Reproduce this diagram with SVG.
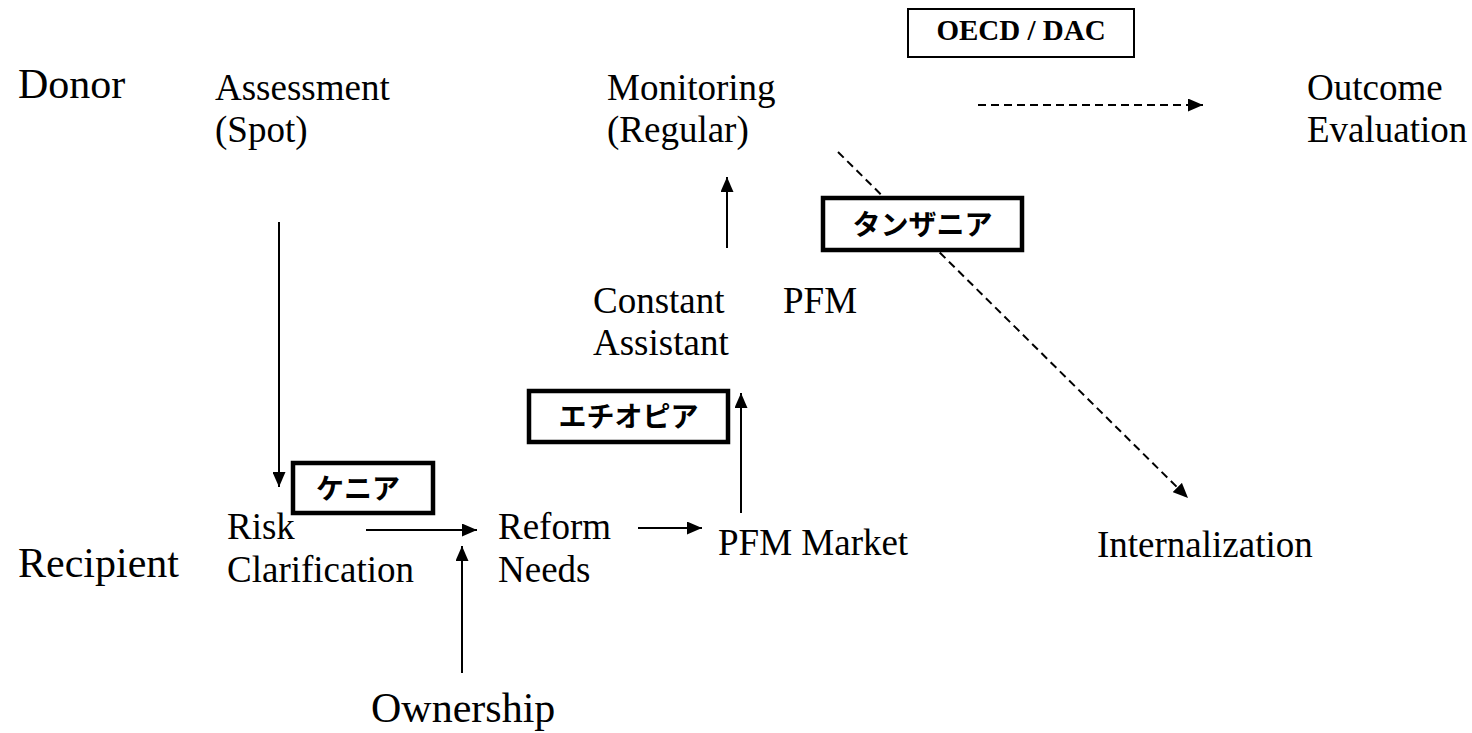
<svg xmlns="http://www.w3.org/2000/svg" width="1472" height="733" viewBox="0 0 1472 733">
<style>
.t{font-family:"Liberation Serif","Times New Roman",serif;font-size:37px;fill:#000}
.big{font-size:42px}
.b{font-family:"Liberation Serif","Times New Roman",serif;font-size:29px;font-weight:bold;fill:#000}
.jp{font-family:"Noto Sans CJK JP","Noto Sans",sans-serif;font-size:28px;font-weight:bold;fill:#000}
.ln{stroke:#000;stroke-width:2;fill:none}
.dash{stroke:#000;stroke-width:2;fill:none;stroke-dasharray:8 5}
.box{fill:#fff;stroke:#000;stroke-width:4.5}
.thin{fill:#fff;stroke:#000;stroke-width:2}
</style>
<defs>
<marker id="ah" viewBox="0 0 15 13" refX="15" refY="6.5" markerWidth="15" markerHeight="13" markerUnits="userSpaceOnUse" orient="auto">
<path d="M0,0 L15,6.5 L0,13 Z" fill="#000"/>
</marker>
</defs>
<rect width="1472" height="733" fill="#fff"/>
<g id="connectors">
<line class="ln" x1="279" y1="222" x2="279" y2="487" marker-end="url(#ah)"/>
<line class="ln" x1="727" y1="248" x2="727" y2="177" marker-end="url(#ah)"/>
<line class="ln" x1="741" y1="513" x2="741" y2="393" marker-end="url(#ah)"/>
<line class="ln" x1="366" y1="530" x2="477" y2="530" marker-end="url(#ah)"/>
<line class="ln" x1="638" y1="528" x2="702" y2="528" marker-end="url(#ah)"/>
<line class="ln" x1="462" y1="673" x2="462" y2="546" marker-end="url(#ah)"/>
<line class="dash" x1="978" y1="105" x2="1203" y2="105" marker-end="url(#ah)"/>
<line class="dash" x1="838" y1="152" x2="1188" y2="498" marker-end="url(#ah)"/>
</g>
<g id="donor"><text class="t big" x="18" y="98">Donor</text></g>
<g id="recipient"><text class="t big" x="18" y="577">Recipient</text></g>
<g id="assessment"><text class="t" x="215" y="100">Assessment</text><text class="t" x="215" y="142">(Spot)</text></g>
<g id="monitoring"><text class="t" x="607" y="100">Monitoring</text><text class="t" x="607" y="142">(Regular)</text></g>
<g id="oecd"><rect class="thin" x="908" y="9" width="226" height="48"/><text class="b" x="1021" y="40" text-anchor="middle">OECD / DAC</text></g>
<g id="outcome"><text class="t" x="1307" y="100">Outcome</text><text class="t" x="1307" y="142">Evaluation</text></g>
<g id="tanzania"><rect class="box" x="823" y="198" width="199" height="52"/><text class="jp" x="922.5" y="235" text-anchor="middle">タンザニア</text></g>
<g id="constant"><text class="t" x="593" y="313">Constant</text><text class="t" x="593" y="355">Assistant</text></g>
<g id="pfm"><text class="t" x="783" y="313">PFM</text></g>
<g id="ethiopia"><rect class="box" x="529" y="391" width="199" height="51"/><text class="jp" x="628.5" y="427" text-anchor="middle">エチオピア</text></g>
<g id="kenya"><rect class="box" x="293" y="463" width="140" height="50"/><text class="jp" x="358" y="499" text-anchor="middle">ケニア</text></g>
<g id="risk"><text class="t" x="227" y="539">Risk</text><text class="t" x="227" y="582">Clarification</text></g>
<g id="reform"><text class="t" x="498" y="539">Reform</text><text class="t" x="498" y="582">Needs</text></g>
<g id="pfmmarket"><text class="t" x="718" y="555">PFM Market</text></g>
<g id="internalization"><text class="t" x="1097" y="557">Internalization</text></g>
<g id="ownership"><text class="t big" x="371" y="722">Ownership</text></g>
</svg>
